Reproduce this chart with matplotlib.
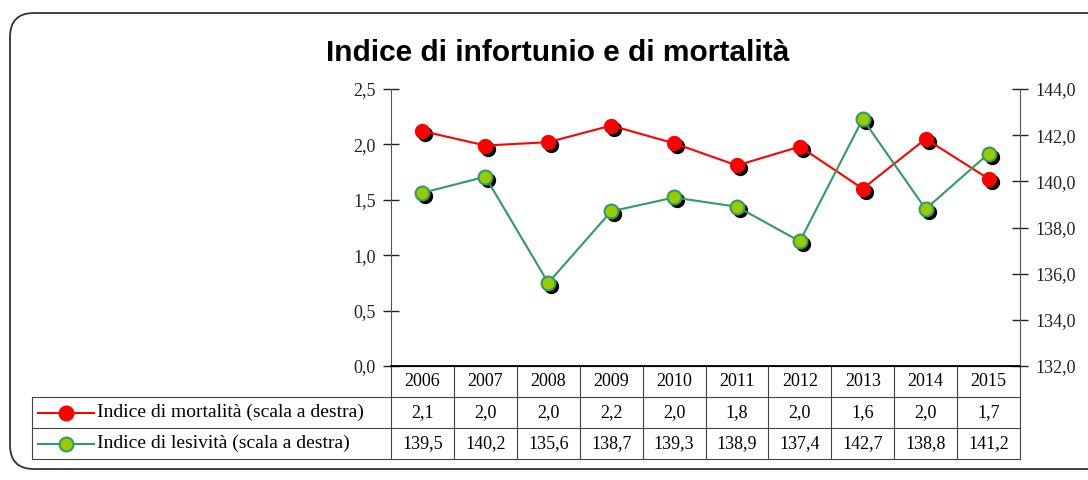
import matplotlib.pyplot as plt
import matplotlib.transforms as mtransforms
from matplotlib.patches import FancyBboxPatch
from matplotlib.lines import Line2D
from matplotlib.ticker import FuncFormatter

years = ['2006', '2007', '2008', '2009', '2010', '2011', '2012', '2013', '2014', '2015']
mortalita = [2.12, 1.99, 2.02, 2.17, 2.01, 1.81, 1.98, 1.60, 2.05, 1.69]
lesivita = [139.5, 140.2, 135.6, 138.7, 139.3, 138.9, 137.4, 142.7, 138.8, 141.2]
label_mort = 'Indice di mortalità (scala a destra)'
label_les = 'Indice di lesività (scala a destra)'

serif = 'Liberation Serif'
red = '#FF0000'
green_line = '#339966'
green_face = '#99CC00'

fig = plt.figure(figsize=(10.88, 4.8), dpi=100)

# rounded frame
frame = FancyBboxPatch((10 / 1088, 11 / 480), 1.2, 456 / 480,
                       boxstyle='round,pad=0,rounding_size=0.022',
                       transform=fig.transFigure, facecolor='none',
                       edgecolor='#333333', linewidth=1.3, mutation_aspect=1088 / 480)
fig.patches.append(frame)

ax = fig.add_axes([391 / 1088, 1 - 366 / 480, 629 / 1088, 277 / 480])
ax2 = ax.twinx()
x = list(range(len(years)))

comma = lambda v, p: f'{v:.1f}'.replace('.', ',')
ax.set_ylim(0, 2.5)
ax.set_yticks([0, 0.5, 1.0, 1.5, 2.0, 2.5])
ax.yaxis.set_major_formatter(FuncFormatter(comma))
ax2.set_ylim(132, 144)
ax2.set_yticks([132, 134, 136, 138, 140, 142, 144])
ax2.yaxis.set_major_formatter(FuncFormatter(comma))
ax.set_xlim(-0.5, len(years) - 0.5)
ax.set_xticks([])

for a in (ax, ax2):
    a.tick_params(axis='y', direction='inout', length=12, width=1, labelsize=13,
                  colors='#222222', pad=5)
    for lab in a.get_yticklabels():
        lab.set_family(serif)
    a.spines['top'].set_visible(False)
ax.spines['right'].set_visible(False)
ax2.spines['left'].set_visible(False)
ax.spines['left'].set_color('#555555')
ax2.spines['right'].set_color('#555555')
ax.spines['bottom'].set_linewidth(1.3)

shadow = mtransforms.offset_copy(ax.transData, fig=fig, x=3, y=-3, units='dots')
shadow2 = mtransforms.offset_copy(ax2.transData, fig=fig, x=3, y=-3, units='dots')

ax.plot(x, mortalita, 'o', color='black', markersize=10, transform=shadow, zorder=2)
ax.plot(x, mortalita, '-o', color=red, markersize=10, linewidth=1.5, zorder=3)
ax2.plot(x, lesivita, 'o', color='black', markersize=10, transform=shadow2, zorder=2)
ax2.plot(x, lesivita, '-o', color=green_line, markerfacecolor=green_face,
         markeredgecolor=green_line, markeredgewidth=1.5, markersize=10, linewidth=1.5, zorder=3)

fig.text(0.513, 1 - 53 / 480, 'Indice di infortunio e di mortalità', ha='center', va='center',
         fontsize=21.5, fontweight='bold', family='Liberation Sans')

# data table below the axes
row_h = 31 / 277
tx = mtransforms.blended_transform_factory(ax.transData, ax.transAxes)
tleft = -359 / 629
lw = 0.8
lc = '#444444'
fs = 13
for i in range(1, 4):
    y = -row_h * i
    ax.plot([tleft, 1], [y, y], transform=ax.transAxes, color=lc, lw=lw, clip_on=False)
for k in range(len(years) + 1):
    ax.plot([k - 0.5, k - 0.5], [0, -3 * row_h], transform=tx, color=lc, lw=lw, clip_on=False)
ax.plot([tleft, tleft], [-row_h, -3 * row_h], transform=ax.transAxes, color=lc, lw=lw, clip_on=False)

for k, yr in enumerate(years):
    ax.text(k, -0.5 * row_h, yr, transform=tx, ha='center', va='center', fontsize=fs, family=serif)
    ax.text(k, -1.5 * row_h, comma(mortalita[k], None), transform=tx, ha='center', va='center',
            fontsize=fs, family=serif)
    ax.text(k, -2.5 * row_h, comma(lesivita[k], None), transform=tx, ha='center', va='center',
            fontsize=fs, family=serif)

# legend keys inside table
for r, (lab, lcol, fcol) in enumerate([(label_mort, red, red), (label_les, green_line, green_face)]):
    yy = -(1.5 + r) * row_h
    xa = tleft + 6 / 629
    xb = tleft + 62 / 629
    ax.add_line(Line2D([xa, xb], [yy, yy], transform=ax.transAxes, color=lcol, lw=1.5, clip_on=False))
    ax.add_line(Line2D([(xa + xb) / 2], [yy], transform=ax.transAxes, marker='o', markersize=10,
                       markerfacecolor=fcol, markeredgecolor=lcol, markeredgewidth=1.5, clip_on=False))
    ax.text(xb + 3 / 629, yy, lab, transform=ax.transAxes, ha='left', va='center', fontsize=14, family=serif)

fig.savefig('out.png', dpi=100)
